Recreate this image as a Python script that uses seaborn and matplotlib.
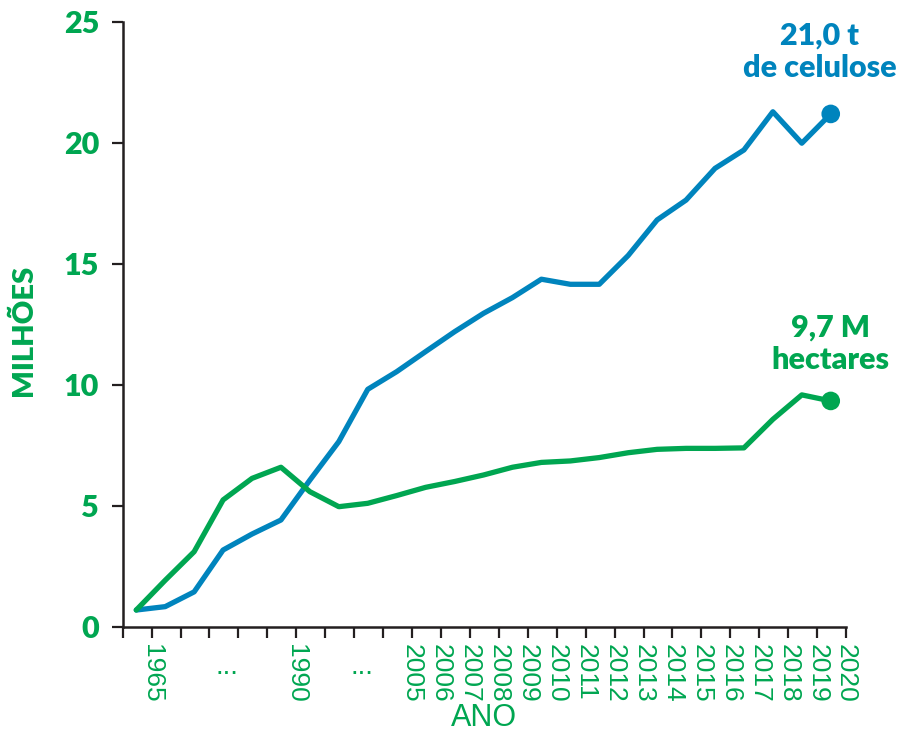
import numpy as np
import pandas as pd
import matplotlib
matplotlib.use("Agg")
import matplotlib.pyplot as plt
import matplotlib.transforms as mtransforms
import seaborn as sns

# ---- data ----
point_index = list(range(25))
celulose = [0.70, 0.84, 1.45, 3.18, 3.84, 4.42, 6.07, 7.66, 9.82, 10.55, 11.38, 12.20,
            12.96, 13.61, 14.37, 14.16, 14.16, 15.35, 16.82, 17.64, 18.95, 19.71, 21.29,
            19.99, 21.20]
hectares = [0.70, 1.93, 3.11, 5.25, 6.14, 6.60, 5.59, 4.97, 5.11, 5.43, 5.77, 6.01,
            6.28, 6.60, 6.80, 6.86, 7.00, 7.20, 7.34, 7.38, 7.38, 7.40, 8.58, 9.59, 9.34]
tick_labels = ["", "1965", "", "", "", "", "1990", "", "", "", "2005", "2006", "2007",
               "2008", "2009", "2010", "2011", "2012", "2013", "2014", "2015", "2016",
               "2017", "2018", "2019", "2020"]
ellipsis_pos = [3.6, 8.27]
y_ticks = [0, 5, 10, 15, 20, 25]
label_cel = "21,0 t\nde celulose"
label_ha = "9,7 M\nhectares"

BLUE = "#0084BD"
GREEN = "#00A651"

sns.set_style("ticks")
plt.rcParams["font.family"] = ["Lato", "DejaVu Sans"]

x_pos = [i + 0.47 for i in point_index]
df = pd.DataFrame({
    "x": x_pos * 2,
    "valor": celulose + hectares,
    "serie": ["celulose"] * len(celulose) + ["hectares"] * len(hectares),
})

fig = plt.figure(figsize=(9.02, 7.37), dpi=100)
ax = fig.add_axes([0.136, 0.1493, 0.802, 0.8209])

sns.lineplot(data=df, x="x", y="valor", hue="serie",
             palette={"celulose": BLUE, "hectares": GREEN},
             linewidth=3.8, legend=False, ax=ax, sort=False)
for ln in ax.lines:
    ln.set_solid_joinstyle("round")
    ln.set_solid_capstyle("round")

last = pd.DataFrame({"x": [x_pos[-1], x_pos[-1]],
                     "valor": [celulose[-1], hectares[-1]],
                     "serie": ["celulose", "hectares"]})
sns.scatterplot(data=last, x="x", y="valor", hue="serie",
                palette={"celulose": BLUE, "hectares": GREEN},
                s=180, edgecolor="none", legend=False, ax=ax, zorder=5)

ax.annotate(label_cel, xy=(x_pos[-1], celulose[-1]), xytext=(-8, 45),
            textcoords="offset points", ha="center", va="center",
            color=BLUE, fontsize=22, fontweight="heavy", linespacing=1.2,
            annotation_clip=False)
ax.annotate(label_ha, xy=(x_pos[-1], hectares[-1]), xytext=(0, 41),
            textcoords="offset points", ha="center", va="center",
            color=GREEN, fontsize=22, fontweight="heavy", linespacing=1.2,
            annotation_clip=False)

ax.set_xlim(0, 25)
ax.set_ylim(0, 25)
ax.set_xticks(range(len(tick_labels)))
ax.set_xticklabels(tick_labels, rotation=-90, color=GREEN, fontsize=19,
                   family=["Liberation Sans Narrow", "Liberation Sans", "DejaVu Sans"],
                   ha="center", va="top")
offset = mtransforms.ScaledTranslation(7 / 100, 0, fig.dpi_scale_trans)
for lab in ax.get_xticklabels():
    lab.set_transform(lab.get_transform() + offset)
for xp in ellipsis_pos:
    ax.text(xp, -1.65, "...", ha="center", va="center", color=GREEN, fontsize=20,
            family=["Liberation Sans", "DejaVu Sans"], transform=ax.transData)

ax.set_yticks(y_ticks)
ax.set_yticklabels([str(v) for v in y_ticks], color=GREEN, fontsize=22, fontweight="heavy")

ax.tick_params(axis="x", direction="out", length=8, width=1.6, color="#231F20", pad=4)
ax.tick_params(axis="y", direction="out", length=8, width=1.6, color="#231F20", pad=9)
for side in ["top", "right"]:
    ax.spines[side].set_visible(False)
for side in ["left", "bottom"]:
    ax.spines[side].set_linewidth(1.8)
    ax.spines[side].set_color("#231F20")

ax.set_xlabel("ANO", color=GREEN, fontsize=22,
              family=["Liberation Sans", "DejaVu Sans"])
ax.xaxis.set_label_coords(0.50, -0.126)
ax.set_ylabel("MILHÕES", color=GREEN, fontsize=21, fontweight="heavy")
ax.yaxis.set_label_coords(-0.118, 0.49)

fig.savefig("out.png", dpi=100)
